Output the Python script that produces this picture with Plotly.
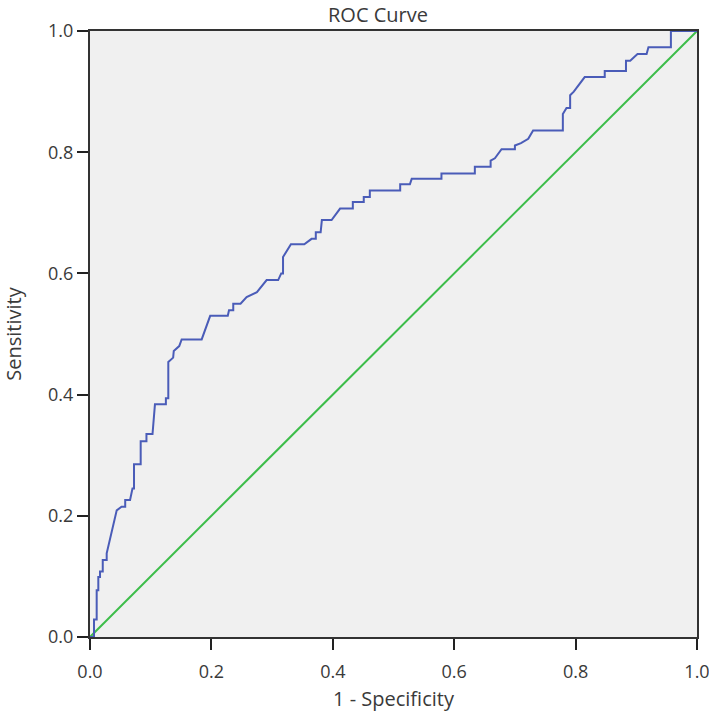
import plotly.graph_objects as go

fpr = [0, 0.0066, 0.0066, 0.011, 0.011, 0.0137, 0.0137, 0.0165, 0.0165, 0.021, 0.021, 0.0275, 0.0275,
       0.044, 0.052, 0.058, 0.058, 0.066, 0.070, 0.0725, 0.0725, 0.0835, 0.0835, 0.093, 0.093, 0.103,
       0.107, 0.125, 0.125, 0.129, 0.129, 0.137, 0.138, 0.147, 0.151, 0.184, 0.198, 0.227, 0.229,
       0.236, 0.236, 0.248, 0.258, 0.275, 0.291, 0.310, 0.315, 0.318, 0.318, 0.322, 0.327, 0.331,
       0.353, 0.365, 0.372, 0.372, 0.380, 0.382, 0.398, 0.412, 0.433, 0.433, 0.451, 0.451, 0.461,
       0.461, 0.511, 0.511, 0.527, 0.530, 0.579, 0.579, 0.634, 0.634, 0.660, 0.660, 0.667, 0.678,
       0.700, 0.700, 0.710, 0.722, 0.730, 0.779, 0.779, 0.785, 0.791, 0.791, 0.797, 0.815, 0.848,
       0.848, 0.883, 0.883, 0.890, 0.902, 0.917, 0.920, 0.957, 0.957, 1.0]
tpr = [0, 0, 0.029, 0.029, 0.077, 0.077, 0.099, 0.099, 0.108, 0.108, 0.127, 0.127, 0.138,
       0.209, 0.215, 0.215, 0.226, 0.226, 0.245, 0.245, 0.285, 0.285, 0.323, 0.323, 0.335, 0.335,
       0.384, 0.384, 0.394, 0.394, 0.454, 0.461, 0.472, 0.480, 0.491, 0.491, 0.530, 0.530, 0.539,
       0.539, 0.550, 0.550, 0.561, 0.569, 0.589, 0.589, 0.600, 0.600, 0.627, 0.633, 0.641, 0.648,
       0.648, 0.657, 0.657, 0.668, 0.668, 0.688, 0.688, 0.707, 0.707, 0.718, 0.718, 0.726, 0.726,
       0.737, 0.737, 0.747, 0.747, 0.756, 0.756, 0.765, 0.765, 0.776, 0.776, 0.786, 0.790, 0.805,
       0.805, 0.811, 0.815, 0.822, 0.836, 0.836, 0.863, 0.873, 0.873, 0.894, 0.900, 0.924, 0.924,
       0.934, 0.934, 0.951, 0.951, 0.962, 0.962, 0.973, 0.973, 1.0, 1.0]
ref_x = [0, 1]
ref_y = [0, 1]
ticks = [0.0, 0.2, 0.4, 0.6, 0.8, 1.0]
tick_text = ["0.0", "0.2", "0.4", "0.6", "0.8", "1.0"]

fig = go.Figure()
fig.add_trace(go.Scatter(x=ref_x, y=ref_y, mode="lines",
                         line=dict(color="#3dbd4a", width=2), showlegend=False))
fig.add_trace(go.Scatter(x=fpr, y=tpr, mode="lines",
                         line=dict(color="#4a5cb8", width=2), showlegend=False))

axis_common = dict(range=[0, 1], tickvals=ticks, ticktext=tick_text, ticks="outside",
                   ticklen=11, tickwidth=2, tickcolor="#222", showline=True, linecolor="#333",
                   linewidth=2, mirror=True, showgrid=False, zeroline=False, automargin=False,
                   ticklabeloverflow="allow",
                   tickfont=dict(size=18, color="#3a3a3a"))

fig.update_layout(
    width=709, height=712,
    margin=dict(l=90, r=12, t=31, b=75),
    paper_bgcolor="white", plot_bgcolor="#f0f0f0",
    font=dict(family="Open Sans, Noto Sans, sans-serif", color="#3a3a3a"),
    title=dict(text="ROC Curve", x=378 / 709, xanchor="center", xref="container",
               y=1 - 14.5 / 712, yanchor="middle", yref="container",
               font=dict(size=20, color="#3a3a3a")),
    xaxis=dict(axis_common, ticklabelstandoff=6,
               title=dict(text="1 - Specificity", font=dict(size=20), standoff=10)),
    yaxis=dict(axis_common, title=dict(text="Sensitivity", font=dict(size=20), standoff=25)),
)

fig.write_html("out.html", config={"displayModeBar": False},
               post_script="document.body.style.margin='0';document.body.style.padding='0';")
